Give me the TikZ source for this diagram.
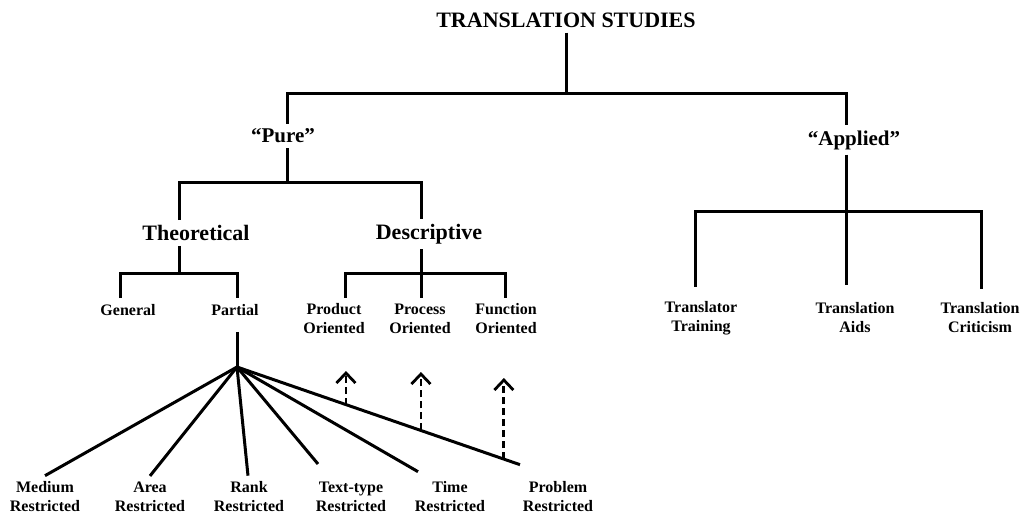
\documentclass[tikz,border=0pt]{standalone}
\usepackage{fontspec}
\setmainfont{Liberation Serif}
\usetikzlibrary{arrows.meta}

\begin{document}
\begin{tikzpicture}[x=1pt,y=-1pt,
    tree/.style={line width=3pt},
    dasharrow/.style={line width=2.8pt,dash pattern=on 7pt off 4pt,-{Straight Barb[length=10pt,width=19pt]}},
    toplabel/.style={font=\fontsize{22}{26}\selectfont\bfseries,inner sep=5pt},
    branch/.style={font=\fontsize{21}{25}\selectfont\bfseries,inner sep=5pt},
    leaf/.style={font=\fontsize{16}{19}\selectfont\bfseries,align=center,inner sep=6pt}]
\path[use as bounding box] (0,0) rectangle (1026,520);

\node[toplabel] (ts) at (566,20) {TRANSLATION STUDIES};
\node[branch] (pure) at (283,136) {``Pure''};
\node[branch] (applied) at (854,140) {``Applied''};
\node[branch,font=\fontsize{22}{26}\selectfont\bfseries] (theo) at (196,233) {Theoretical};
\node[branch,font=\fontsize{22}{26}\selectfont\bfseries] (desc) at (429,234) {Descriptive};

\node[leaf] (gen) at (128,310) {General};
\node[leaf] (part) at (235,310) {Partial};
\foreach \name/\x/\txt in {prod/334/Product,proc/420/Process,func/506/Function}
  \node[leaf] (\name) at (\x,319) {\txt\\Oriented};
\foreach \name/\x/\txt in {trtr/701/Translator\\Training,trai/855/Translation\\Aids,trcr/980/Translation\\Criticism}
  \node[leaf] (\name) at (\x,318) {\txt};
\foreach \name/\x/\txt in {med/45/Medium,area/150/Area,rank/249/Rank,ttype/351/Text-type,time/450/Time,prob/558/Problem}
  \node[leaf] (\name) at (\x,497) {\txt\\Restricted};

\coordinate (ts-j) at (566,93);
\coordinate (pure-j) at (287,182);
\coordinate (theo-j) at (179,273);
\coordinate (desc-j) at (421,273);
\coordinate (app-j) at (846,211);
\coordinate (fan) at (237,367);
\coordinate (tip1) at (346,371);
\coordinate (tip2) at (421,372);
\coordinate (tip3) at (504,378);

\draw[tree] (ts) -- (ts-j);
\draw[tree] ([xshift=4pt]pure.north) |- (ts-j) -| ([xshift=-8pt]applied.north);
\draw[tree] ([xshift=4pt]pure.south) -- (pure-j);
\draw[tree] ([xshift=-17pt]theo.north) |- (pure-j) -| ([xshift=-8pt]desc.north);
\draw[tree] ([xshift=-17pt]theo.south) -- (theo-j);
\draw[tree] ([xshift=-8pt]gen.north) |- (theo-j) -| ([xshift=2pt]part.north);
\draw[tree] ([xshift=-8pt]desc.south) -- (desc-j);
\draw[tree] ([xshift=11pt]prod.north) |- (desc-j) -| ([xshift=-1pt]func.north);
\draw[tree] (desc-j) -- (desc-j |- proc.north);
\draw[tree] ([xshift=-8pt]applied.south) -- (app-j);
\draw[tree] ([xshift=-6pt,yshift=8pt]trtr.north) |- (app-j) -| ([xshift=1pt,yshift=8pt]trcr.north);
\draw[tree] (app-j) -- ([yshift=12pt]app-j |- trai.north);

\draw[tree] ([xshift=2pt,yshift=-10pt]part.south) -- (fan);
\draw[tree] (fan) -- (med.north);
\draw[tree] (fan) -- (area.north);
\draw[tree] (fan) -- ([xshift=-1pt]rank.north);
\draw[tree] (fan) -- ([xshift=-33pt,yshift=12pt]ttype.north);
\draw[tree] (fan) -- ([xshift=-32pt,yshift=4pt]time.north);
\draw[tree] (fan) -- coordinate[pos=.385] (d1) coordinate[pos=.65] (d2) coordinate[pos=.943] (d3)
  ([xshift=-38pt,yshift=11pt]prob.north);

\draw[dasharrow] (d1) -- (d1 |- tip1);
\draw[dasharrow] (d2) -- (d2 |- tip2);
\draw[dasharrow] (d3) -- (d3 |- tip3);
\end{tikzpicture}
\end{document}
